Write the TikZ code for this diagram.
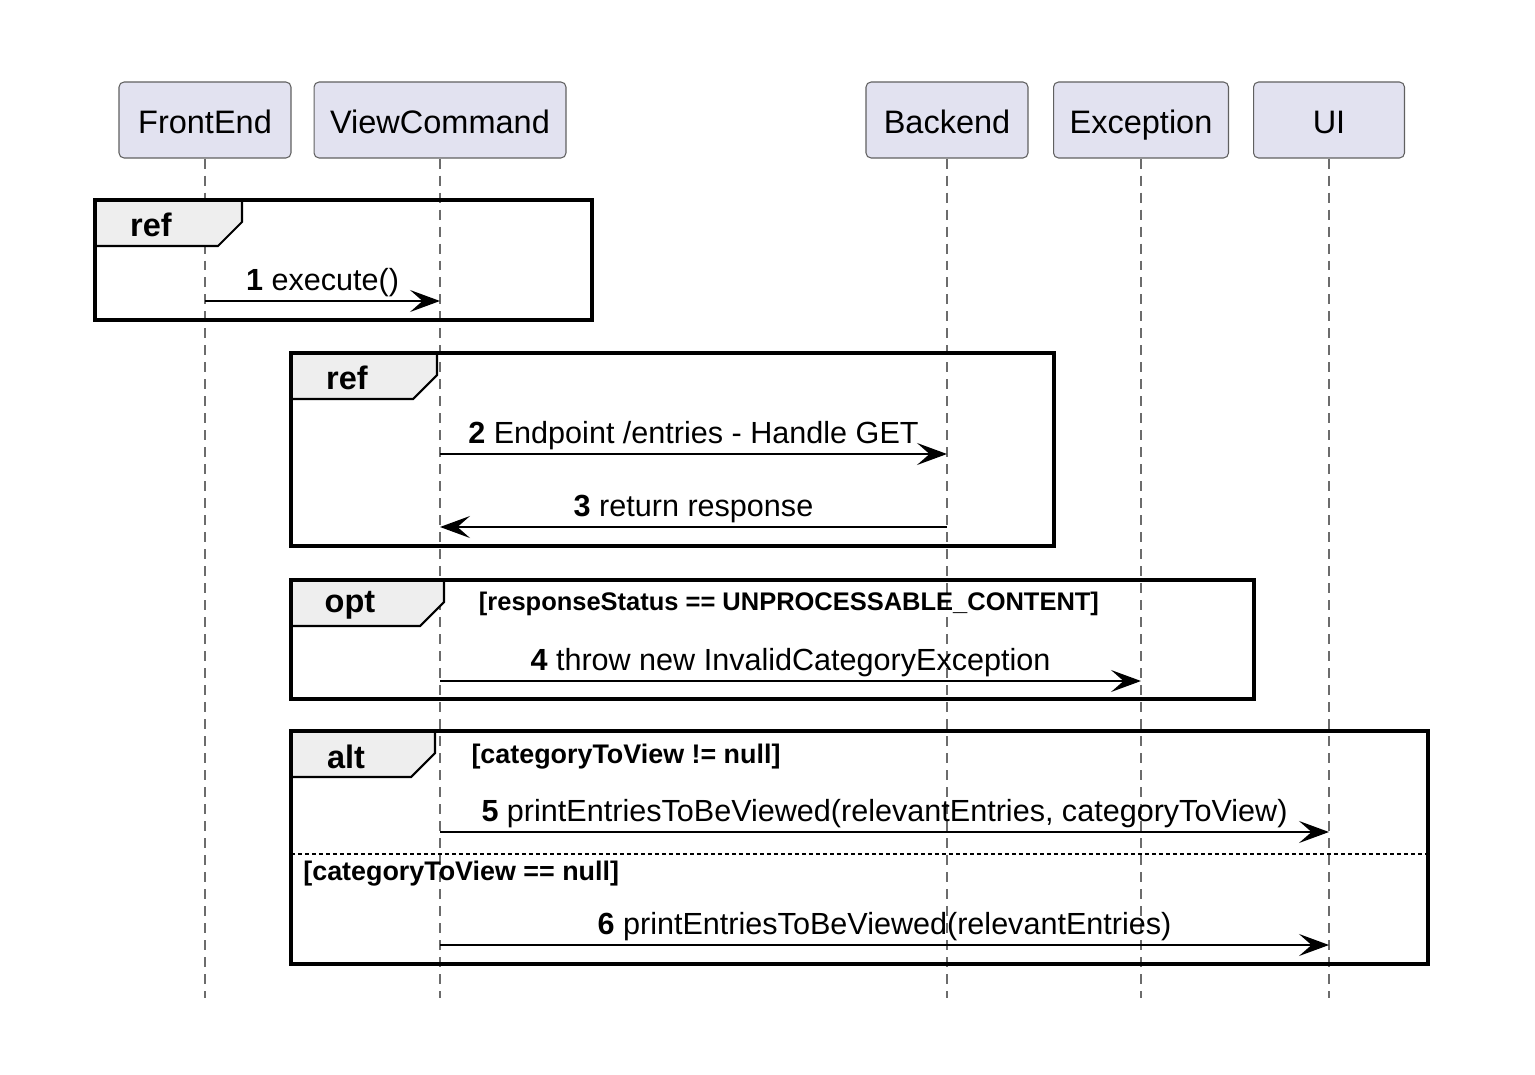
\documentclass[tikz,border=0pt]{standalone}
\usepackage{fontspec}
\setmainfont{Liberation Sans}
\usetikzlibrary{arrows.meta}
\definecolor{partfill}{HTML}{E2E2F0}
\definecolor{tabfill}{HTML}{EEEEEE}
\begin{document}
\begin{tikzpicture}[x=0.02cm,y=-0.02cm,
    part/.style={draw=gray!75!black,line width=0.6pt,fill=partfill,rounded corners=0.1cm,
      minimum width=#1,minimum height=1.52cm,inner sep=0pt,text height=15.2pt,text depth=0pt,
      font=\fontsize{18.5}{22}\selectfont},
    life/.style={draw=gray!85!black,line width=0.6pt,dash pattern=on 0.2cm off 0.14cm},
    msg/.style={line width=0.9pt,-{Stealth[length=0.6cm,width=0.44cm,inset=0.25cm]}},
    lbl/.style={anchor=base,yshift=0.22cm,inner sep=0pt,font=\fontsize{17.4}{20}\selectfont},
    frame/.style={line width=1.8pt},
    tabbox/.style={fill=tabfill,draw,line width=1.2pt},
    flab/.style={inner sep=0pt,font=\bfseries\fontsize{18.5}{22}\selectfont},
    guard/.style={inner sep=0pt,font=\bfseries\fontsize{14.5}{17}\selectfont},
    sep/.style={line width=1pt,dash pattern=on 0.08cm off 0.06cm}]
\useasboundingbox (0,0) rectangle (1535,1075);
\node[part=3.44cm] (fe) at (205,120) {FrontEnd};
\node[part=5.04cm] (vc) at (440,120) {ViewCommand};
\node[part=3.24cm] (be) at (947,120) {Backend};
\node[part=3.5cm] (ex) at (1141,120) {Exception};
\node[part=3.02cm] (ui) at (1329,120) {UI};
\coordinate (bot) at (0,998);
\coordinate (m1) at (0,301);
\coordinate (m2) at (0,454);
\coordinate (m3) at (0,527);
\coordinate (m4) at (0,681);
\coordinate (m5) at (0,832);
\coordinate (m6) at (0,945);
\foreach \p in {fe,vc,be,ex,ui}
  \draw[life] (\p.south) -- (\p |- bot);
\filldraw[tabbox] (95,200) -- (242,200) -- (242,222) -- (218,246) -- (95,246) -- cycle;
\draw[frame] (95,200) rectangle (592,320);
\node[flab] (ref1) at (151,225) {ref};
\filldraw[tabbox] (291,353) -- (437,353) -- (437,375) -- (413,399) -- (291,399) -- cycle;
\draw[frame] (291,353) rectangle (1054,546);
\node[flab] (ref2) at (347,378) {ref};
\filldraw[tabbox] (291,580) -- (444,580) -- (444,602) -- (420,626) -- (291,626) -- cycle;
\draw[frame] (291,580) rectangle (1254,699);
\node[flab] (opt) at (350,605) {opt};
\node[guard] (g1) at (789,604) {[responseStatus == UNPROCESSABLE\_CONTENT]};
\filldraw[tabbox] (291,731) -- (435,731) -- (435,753) -- (411,777) -- (291,777) -- cycle;
\draw[frame] (291,731) rectangle (1428,964);
\node[flab] (alt) at (346,757) {alt};
\node[guard,font=\bfseries\fontsize{15.3}{18}\selectfont] (g2) at (626,757) {[categoryToView != null]};
\draw[sep] (291,854) -- (1428,854);
\node[guard,anchor=west,font=\bfseries\fontsize{15.3}{18}\selectfont] (g3) at (303,874) {[categoryToView == null]};
\draw[msg] (fe |- m1) -- node[lbl] {\textbf{1} execute()} (vc |- m1);
\draw[msg] (vc |- m2) -- node[lbl] {\textbf{2} Endpoint /entries - Handle GET} (be |- m2);
\draw[msg] (be |- m3) -- node[lbl] {\textbf{3} return response} (vc |- m3);
\draw[msg] (vc |- m4) -- node[lbl] {\textbf{4} throw new InvalidCategoryException} (ex |- m4);
\draw[msg] (vc |- m5) -- node[lbl] {\textbf{5} printEntriesToBeViewed(relevantEntries, categoryToView)} (ui |- m5);
\draw[msg] (vc |- m6) -- node[lbl] {\textbf{6} printEntriesToBeViewed(relevantEntries)} (ui |- m6);
\end{tikzpicture}
\end{document}
